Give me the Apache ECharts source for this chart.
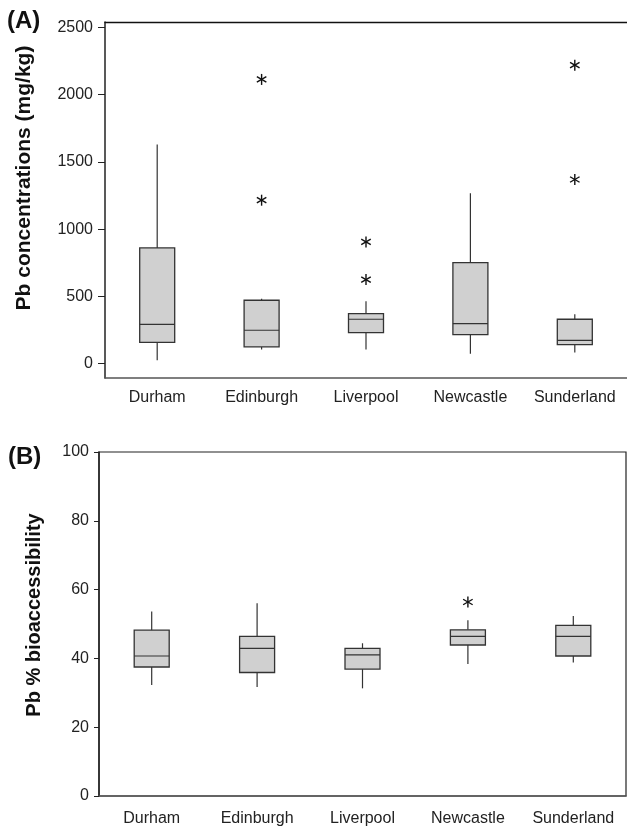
<!DOCTYPE html>
<html>
<head>
<meta charset="utf-8">
<script src="https://cdn.jsdelivr.net/npm/echarts@6/dist/echarts.min.js"></script>
<style>
  html, body { margin: 0; padding: 0; background: #fff; }
  #chart { width: 627px; height: 828px; }
</style>
</head>
<body>
<div id="chart"></div>
<script>
  var sites = ['Durham', 'Edinburgh', 'Liverpool', 'Newcastle', 'Sunderland'];

  // [low whisker, Q1, median, Q3, high whisker]
  var pbBoxes = [
    [25, 158, 292, 860, 1629],
    [104, 124, 248, 471, 482],
    [104, 231, 330, 372, 463],
    [74, 216, 298, 751, 1267],
    [82, 141, 173, 330, 367]
  ];
  var pbOutliers = [[1, 2113], [1, 1215], [2, 905], [2, 625], [4, 2219], [4, 1369]];
  var pbTicks = [0, 500, 1000, 1500, 2000, 2500];

  var bioBoxes = [
    [32.3, 37.5, 40.7, 48.2, 53.6],
    [31.7, 35.9, 42.9, 46.4, 56.0],
    [31.3, 36.9, 41.0, 42.9, 44.4],
    [38.4, 43.9, 46.4, 48.3, 51.1],
    [38.8, 40.7, 46.4, 49.6, 52.3]
  ];
  var bioOutliers = [[3, 56.4]];

  var FONT = "'Liberation Sans', Arial, sans-serif";
  var INK = '#222';

  function boxData(rows) {
    return rows.map(function (r, i) { return [i].concat(r); });
  }

  // box without whisker caps, like the original plot
  function renderBox(params, api) {
    var i = api.value(0);
    var lo = api.coord([i, api.value(1)]);
    var q1 = api.coord([i, api.value(2)]);
    var md = api.coord([i, api.value(3)]);
    var q3 = api.coord([i, api.value(4)]);
    var hi = api.coord([i, api.value(5)]);
    var x = lo[0], hw = 17.5;
    var line = { stroke: '#333', lineWidth: 1.2 };
    return {
      type: 'group',
      children: [
        { type: 'line', shape: { x1: x, y1: q3[1], x2: x, y2: hi[1] }, style: line },
        { type: 'line', shape: { x1: x, y1: q1[1], x2: x, y2: lo[1] }, style: line },
        { type: 'rect', shape: { x: x - hw, y: q3[1], width: hw * 2, height: q1[1] - q3[1] },
          style: { fill: '#d0d0d0', stroke: '#333', lineWidth: 1.3 } },
        { type: 'line', shape: { x1: x - hw, y1: md[1], x2: x + hw, y2: md[1] }, style: line }
      ]
    };
  }

  function renderStar(params, api) {
    var p = api.coord([api.value(0), api.value(1)]);
    var r = 5.5, kids = [];
    [90, 30, 150].forEach(function (a) {
      var dx = r * Math.cos(a * Math.PI / 180), dy = r * Math.sin(a * Math.PI / 180);
      kids.push({ type: 'line', shape: { x1: p[0] - dx, y1: p[1] - dy, x2: p[0] + dx, y2: p[1] + dy },
        style: { stroke: '#111', lineWidth: 1.4 } });
    });
    return { type: 'group', children: kids };
  }

  function xAx(gi, margin) {
    return {
      type: 'category', gridIndex: gi, data: sites,
      axisLine: { onZero: false, lineStyle: { color: '#555', width: 1.5 } },
      axisTick: { alignWithLabel: true, length: 5, lineStyle: { color: INK } },
      axisLabel: { color: INK, fontFamily: FONT, fontSize: 16, margin: margin, interval: 0, hideOverlap: false },
      splitLine: { show: false }
    };
  }

  function plain(v) { return String(v); }

  var chart = echarts.init(document.getElementById('chart'), null, { renderer: 'canvas' });

  chart.setOption({
    animation: false,
    backgroundColor: '#fff',
    grid: [
      { left: 105, top: 22, width: 524, height: 356 },
      { left: 99, top: 452, width: 527, height: 344, show: true, borderColor: INK, borderWidth: 1.2 }
    ],
    xAxis: [
      xAx(0, 12),
      xAx(1, 15),
      // top frame line of panel A (no right border there)
      { type: 'category', gridIndex: 0, position: 'top', data: sites,
        axisLine: { onZero: false, lineStyle: { color: '#111', width: 1.3 } },
        axisTick: { show: false }, axisLabel: { show: false } }
    ],
    yAxis: [
      {
        type: 'value', gridIndex: 0, min: -107, max: 2540,
        axisLine: { show: true, onZero: false, lineStyle: { color: INK, width: 1.5 } },
        axisTick: { show: true, length: 7, customValues: pbTicks, lineStyle: { color: INK } },
        axisLabel: { color: INK, fontFamily: FONT, fontSize: 16, margin: 12, customValues: pbTicks, formatter: plain },
        splitLine: { show: false }
      },
      {
        type: 'value', gridIndex: 1, min: 0, max: 100, interval: 20,
        axisLine: { show: true, onZero: false, lineStyle: { color: INK, width: 1.5 } },
        axisTick: { show: true, length: 5, lineStyle: { color: INK } },
        axisLabel: { color: INK, fontFamily: FONT, fontSize: 16, margin: 10, formatter: plain },
        splitLine: { show: false }
      }
    ],
    series: [
      { type: 'custom', xAxisIndex: 0, yAxisIndex: 0, renderItem: renderBox, data: boxData(pbBoxes) },
      { type: 'custom', xAxisIndex: 0, yAxisIndex: 0, renderItem: renderStar, data: pbOutliers },
      { type: 'custom', xAxisIndex: 1, yAxisIndex: 1, renderItem: renderBox, data: boxData(bioBoxes) },
      { type: 'custom', xAxisIndex: 1, yAxisIndex: 1, renderItem: renderStar, data: bioOutliers }
    ],
    graphic: [
      { type: 'text', left: 7, top: 9, style: { text: '(A)', font: 'bold 24px ' + FONT, fill: '#111' } },
      { type: 'text', left: 8, top: 445, style: { text: '(B)', font: 'bold 24px ' + FONT, fill: '#111' } },
      { type: 'text', x: 24, y: 178, rotation: Math.PI / 2,
        style: { text: 'Pb concentrations (mg/kg)', font: 'bold 21px ' + FONT, fill: '#111',
          align: 'center', verticalAlign: 'middle' } },
      { type: 'text', x: 34, y: 615, rotation: Math.PI / 2,
        style: { text: 'Pb % bioaccessibility', font: 'bold 20px ' + FONT, fill: '#111',
          align: 'center', verticalAlign: 'middle' } }
    ]
  });
</script>
</body>
</html>
